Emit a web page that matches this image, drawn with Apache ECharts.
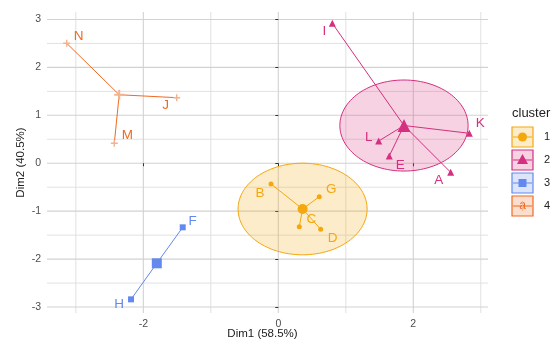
<!DOCTYPE html>
<html>
<head>
<meta charset="utf-8">
<script src="https://cdn.jsdelivr.net/npm/echarts@6/dist/echarts.min.js"></script>
<style>
  html, body { margin: 0; padding: 0; background: #ffffff; }
  #chart { width: 555px; height: 349px; }
</style>
</head>
<body>
<div id="chart"></div>
<script>
// Individuals projected on the first two dimensions, grouped by cluster
const clusterNames = ['1', '2', '3', '4'];

const cluster1Labels = ['B', 'G', 'C', 'D'];
const cluster1Dim1 = [-0.108, 0.607, 0.311, 0.628];
const cluster1Dim2 = [-0.433, -0.698, -1.324, -1.378];

const cluster2Labels = ['A', 'E', 'I', 'K', 'L'];
const cluster2Dim1 = [2.554, 1.644, 0.80, 2.83, 1.487];
const cluster2Dim2 = [-0.189, 0.151, 2.92, 0.625, 0.464];

const cluster3Labels = ['F', 'H'];
const cluster3Dim1 = [-1.416, -2.182];
const cluster3Dim2 = [-1.337, -2.84];

const cluster4Labels = ['J', 'M', 'N'];
const cluster4Dim1 = [-1.505, -2.43, -3.135];
const cluster4Dim2 = [1.368, 0.416, 2.503];

// cluster centres
const centerDim1 = [0.36, 1.862, -1.80, -2.357];
const centerDim2 = [-0.955, 0.787, -2.088, 1.429];

// radius of the concentration circle (only clusters 1 and 2 have one)
const circleRadius = [0.956, 0.95, null, null];

// axis ticks and grid lines
const xTicks = [-2, 0, 2];
const yTicks = [-3, -2, -1, 0, 1, 2, 3];
const xMinorGrid = [-3, -1, 1, 3];
const yMinorGrid = [-2.5, -1.5, -0.5, 0.5, 1.5, 2.5];

const xTitle = 'Dim1 (58.5%)';
const yTitle = 'Dim2 (40.5%)';
const legendTitle = 'cluster';

// ---- styling ----
const fontFamily = 'Liberation Sans, Arial, sans-serif';
const colors = ['#F4A70E', '#D4307F', '#6389EE', '#EF6A22'];
const pointColors = ['#F4A70E', '#D4307F', '#6389EE', '#F3B290'];
const fillColors = ['rgba(244,167,14,0.22)', 'rgba(212,48,127,0.22)', 'rgba(99,137,238,0.22)', 'rgba(239,106,34,0.22)'];
const plusPath = 'path://M4,0h2v4h4v2h-4v4h-2v-4h-4v-2h4z';
const pointSymbols = ['circle', 'triangle', 'rect', plusPath];
const pointSizes = [5, 7, 6, 7];
const centerSizes = [10, 13, 10, 10];
const gridStyles = {
  major: { stroke: '#d2d2d2', lineWidth: 1.1 },
  minor: { stroke: '#dedede', lineWidth: 0.9 }
};

// text placement (pixels) of each individual's label relative to its point
const labelOffset = {
  B: [-11, 9], G: [12, -7], C: [12, -7], D: [12, 9],
  A: [-12, 8], E: [11, 9], I: [-8, 8], K: [11, -10], L: [-10, -4],
  F: [10, -6], H: [-12, 5],
  J: [-11, 8], M: [13, -8], N: [12, -7]
};

const clusters = [
  { labels: cluster1Labels, x: cluster1Dim1, y: cluster1Dim2 },
  { labels: cluster2Labels, x: cluster2Dim1, y: cluster2Dim2 },
  { labels: cluster3Labels, x: cluster3Dim1, y: cluster3Dim2 },
  { labels: cluster4Labels, x: cluster4Dim1, y: cluster4Dim2 }
];

const series = [];

// background grid: [value, 0 = vertical / 1 = horizontal, 0 = minor / 1 = major]
const gridData = [].concat(
  xMinorGrid.map(v => [v, 0, 0]),
  yMinorGrid.map(v => [v, 1, 0]),
  xTicks.map(v => [v, 0, 1]),
  yTicks.map(v => [v, 1, 1])
);
series.push({
  type: 'custom',
  z: 0,
  silent: true,
  data: gridData,
  encode: { x: -1, y: -1 },
  renderItem: function (params, api) {
    const v = api.value(0), horizontal = api.value(1) === 1, major = api.value(2) === 1;
    const cs = params.coordSys;
    let shape;
    if (horizontal) {
      const y = api.coord([0, v])[1];
      shape = { x1: cs.x, y1: y, x2: cs.x + cs.width, y2: y };
    } else {
      const x = api.coord([v, 0])[0];
      shape = { x1: x, y1: cs.y, x2: x, y2: cs.y + cs.height };
    }
    return { type: 'line', shape: shape, style: major ? gridStyles.major : gridStyles.minor };
  }
});

// concentration circles (circles in data units)
series.push({
  type: 'custom',
  z: 1,
  silent: true,
  data: circleRadius.map((r, k) => r == null ? null : [centerDim1[k], centerDim2[k], r, k]).filter(d => d),
  renderItem: function (params, api) {
    const cx = api.value(0), cy = api.value(1), r = api.value(2), k = api.value(3);
    const pts = [];
    for (let i = 0; i < 120; i++) {
      const a = i / 120 * Math.PI * 2;
      pts.push(api.coord([cx + r * Math.cos(a), cy + r * Math.sin(a)]));
    }
    return {
      type: 'polygon',
      shape: { points: pts },
      style: { fill: fillColors[k], stroke: colors[k], lineWidth: 1 }
    };
  }
});

clusters.forEach((c, k) => {
  // segments from centre to every member
  series.push({
    type: 'lines',
    coordinateSystem: 'cartesian2d',
    z: 2,
    silent: true,
    lineStyle: { color: colors[k], width: 1, opacity: 1 },
    data: c.labels.map((n, i) => ({ coords: [[centerDim1[k], centerDim2[k]], [c.x[i], c.y[i]]] }))
  });
  // members
  series.push({
    type: 'scatter',
    z: 3,
    clip: false,
    symbol: pointSymbols[k],
    symbolSize: pointSizes[k],
    itemStyle: { color: pointColors[k], opacity: 1 },
    data: c.labels.map((n, i) => ({
      name: n,
      value: [c.x[i], c.y[i]],
      label: {
        show: true,
        formatter: n,
        position: 'inside',
        offset: labelOffset[n],
        align: 'center',
        verticalAlign: 'middle',
        color: colors[k],
        textBorderWidth: 0,
        textBorderColor: 'transparent',
        fontSize: 13.5,
        fontFamily: fontFamily
      }
    }))
  });
  // centre
  series.push({
    type: 'scatter',
    z: 4,
    symbol: pointSymbols[k],
    symbolSize: centerSizes[k],
    itemStyle: { color: pointColors[k], opacity: 1 },
    data: [[centerDim1[k], centerDim2[k]]]
  });
});

// legend keys
const legendGraphics = [{
  type: 'text', left: 512, top: 107,
  style: { text: legendTitle, fontSize: 13, fill: '#222', fontFamily: fontFamily }
}];
clusterNames.forEach((name, k) => {
  const cy = 137 + k * 23;
  const children = [
    { type: 'rect', shape: { x: 0, y: -10, width: 21, height: 20 }, style: { fill: fillColors[k], stroke: colors[k], lineWidth: 1.2 } },
    { type: 'line', shape: { x1: 1, y1: 0, x2: 20, y2: 0 }, style: { stroke: colors[k], lineWidth: 1 } }
  ];
  if (k === 0) children.push({ type: 'circle', shape: { cx: 10.5, cy: 0, r: 4.6 }, style: { fill: colors[k] } });
  if (k === 1) children.push({ type: 'polygon', shape: { points: [[10.5, -6], [16, 4], [5, 4]] }, style: { fill: colors[k] } });
  if (k === 2) children.push({ type: 'rect', shape: { x: 6.5, y: -4, width: 8, height: 8 }, style: { fill: colors[k] } });
  if (k === 3) {
    children.push({ type: 'text', x: 10.5, y: 0, style: { text: 'a', fontSize: 12, fill: colors[k], align: 'center', verticalAlign: 'middle', fontFamily: fontFamily } });
    children.push({ type: 'line', shape: { x1: 10.5, y1: -5, x2: 10.5, y2: 5 }, style: { stroke: '#F3B290', lineWidth: 1.2 } });
  }
  children.push({ type: 'text', x: 32, y: 0, style: { text: name, fontSize: 11, fill: '#222', verticalAlign: 'middle', fontFamily: fontFamily } });
  legendGraphics.push({ type: 'group', x: 512, y: cy, children: children });
});

const axisText = { color: '#4d4d4d', fontSize: 10.5, fontFamily: fontFamily };
const titleText = { color: '#222', fontSize: 11.5, fontFamily: fontFamily };

const option = {
  animation: false,
  backgroundColor: '#ffffff',
  grid: { left: 47, right: 67, top: 12, bottom: 36, containLabel: false },
  xAxis: {
    type: 'value',
    min: -3.427, max: 3.107,
    name: xTitle, nameLocation: 'middle', nameGap: 15, nameMoveOverlap: false,
    nameTextStyle: Object.assign({ padding: [0, 10, 0, 0] }, titleText),
    axisLine: { show: false },
    axisTick: { show: true, customValues: xTicks, length: 3, lineStyle: { color: '#333', width: 1 } },
    axisLabel: Object.assign({ customValues: xTicks, margin: 6 }, axisText),
    splitLine: { show: false }
  },
  yAxis: {
    type: 'value',
    min: -3.125, max: 3.156,
    name: yTitle, nameLocation: 'middle', nameGap: 20, nameMoveOverlap: false,
    nameTextStyle: titleText,
    axisLine: { show: false },
    axisTick: { show: true, customValues: yTicks, length: 3, lineStyle: { color: '#333', width: 1 } },
    axisLabel: Object.assign({ customValues: yTicks, margin: 6 }, axisText),
    splitLine: { show: false }
  },
  graphic: legendGraphics,
  series: series
};

const chart = echarts.init(document.getElementById('chart'), null, { renderer: 'canvas' });
chart.setOption(option);
</script>
</body>
</html>
